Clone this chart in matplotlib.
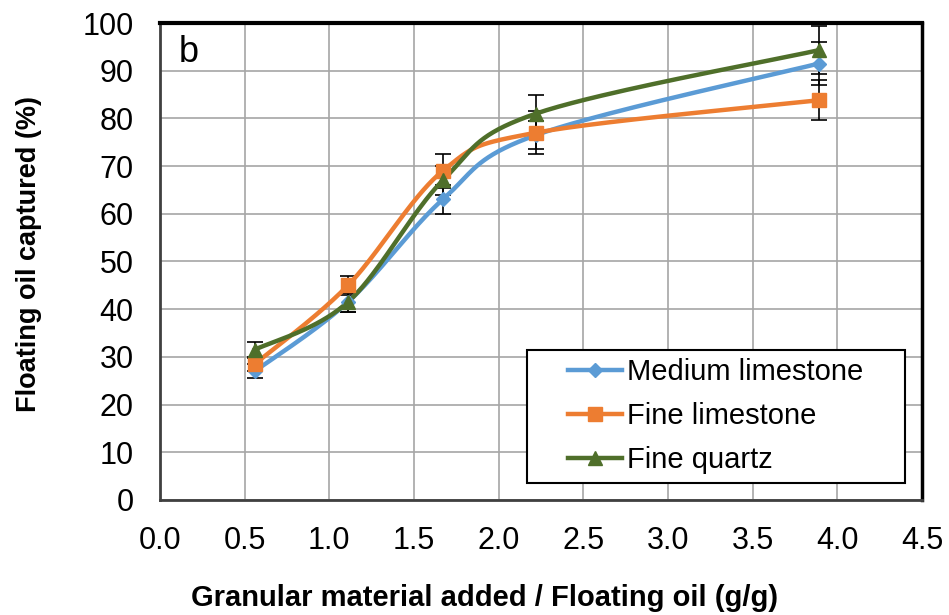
import numpy as np
import matplotlib.pyplot as plt
from matplotlib.patches import Rectangle

plt.rcParams['font.family'] = ['Liberation Sans', 'DejaVu Sans']

# ---------- Data ----------
ratio = [0.56, 1.11, 1.67, 2.22, 3.89]

medium_lime = [27.0, 41.5, 63.0, 76.5, 91.5]
medium_lime_err = [1.5, 2.0, 3.0, 3.0, 4.5]

fine_lime = [28.5, 45.0, 69.0, 77.0, 83.8]
fine_lime_err = [1.5, 2.0, 3.5, 4.5, 4.2]

fine_quartz = [31.5, 41.5, 67.0, 81.0, 94.3]
fine_quartz_err = [1.7, 2.0, 3.0, 4.0, 5.0]

series_names = ['Medium limestone', 'Fine limestone', 'Fine quartz']
colors = ['#5B9BD5', '#ED7D31', '#4F6F2A']
markers = ['D', 's', '^']
marker_sizes = [7, 10, 10]


def smooth(x, y, xspan=4.5, yspan=100.0, n=40):
    # Catmull-Rom spline through the points (like a spreadsheet "smoothed line")
    p = np.column_stack([np.asarray(x) / xspan, np.asarray(y) / yspan])
    p = np.vstack([p[0], p, p[-1]])
    out = []
    t = np.linspace(0, 1, n)[:, None]
    for i in range(1, len(p) - 2):
        p0, p1, p2, p3 = p[i - 1], p[i], p[i + 1], p[i + 2]
        seg = 0.5 * ((2 * p1) + (-p0 + p2) * t
                     + (2 * p0 - 5 * p1 + 4 * p2 - p3) * t ** 2
                     + (-p0 + 3 * p1 - 3 * p2 + p3) * t ** 3)
        out.append(seg)
    s = np.vstack(out)
    return s[:, 0] * xspan, s[:, 1] * yspan


# ---------- Plot ----------
fig = plt.figure(figsize=(9.49, 6.15), dpi=100)
ax = fig.add_axes([0.1686, 0.187, 0.8029, 0.7756])

all_y = [medium_lime, fine_lime, fine_quartz]
all_err = [medium_lime_err, fine_lime_err, fine_quartz_err]

for ys, errs, name, c, m, ms in zip(all_y, all_err, series_names, colors, markers, marker_sizes):
    ax.errorbar(ratio, ys, yerr=errs, fmt='none', ecolor='black',
                elinewidth=1.2, capsize=6, capthick=1.2, zorder=2)
    sx, sy = smooth(ratio, ys)
    ax.plot(sx, sy, color=c, lw=3.2, zorder=3)
    ax.plot(ratio, ys, linestyle='none', marker=m, ms=ms, color=c,
            markeredgecolor=c, zorder=4)
    # legend handle
    ax.plot([], [], color=c, lw=3.2, marker=m, ms=ms, markeredgecolor=c, label=name)

ax.set_xlim(0, 4.5)
ax.set_ylim(0, 100)
ax.set_xticks(np.arange(0, 4.51, 0.5))
ax.set_yticks(np.arange(0, 101, 10))
ax.set_xticklabels([f'{v:.1f}' for v in np.arange(0, 4.51, 0.5)])
ax.tick_params(labelsize=22, length=0)
ax.tick_params(axis='x', pad=18.5)
ax.tick_params(axis='y', pad=19)
ax.grid(True, color='#A6A6A6', lw=1.2)
ax.set_axisbelow(True)

ax.spines['top'].set_linewidth(3)
ax.spines['right'].set_linewidth(2.5)
ax.spines['left'].set_linewidth(2)
ax.spines['bottom'].set_linewidth(2)
for sp in ['left', 'bottom']:
    ax.spines[sp].set_color('#404040')

ax.set_xlabel('Granular material added / Floating oil (g/g)', fontsize=21,
              fontweight='bold')
ax.xaxis.set_label_coords(0.4265, -0.176)
ax.set_ylabel('Floating oil captured (%)', fontsize=19.5, fontweight='bold')
ax.yaxis.set_label_coords(-0.155, 0.515)

ax.text(0.024, 0.975, 'b', transform=ax.transAxes, fontsize=26,
        va='top', ha='left')

# legend box with wide inner margins, entries placed inside it
ax.add_patch(Rectangle((0.4816, 0.0356), 0.4961, 0.2789, transform=ax.transAxes,
                       facecolor='white', edgecolor='black', lw=1.5, zorder=5))
leg = ax.legend(loc='center left', bbox_to_anchor=(0.535, 0.176), fontsize=21,
                frameon=False, handlelength=1.85, handletextpad=0.2,
                labelspacing=0.55, borderpad=0, borderaxespad=0)
leg.set_zorder(6)

fig.savefig('out.png', dpi=100)
